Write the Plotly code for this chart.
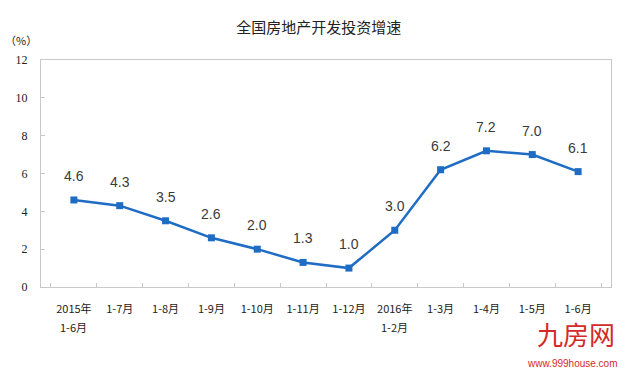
import plotly.graph_objects as go

categories = ["2015年 1-6月", "1-7月", "1-8月", "1-9月", "1-10月", "1-11月", "1-12月",
              "2016年 1-2月", "1-3月", "1-4月", "1-5月", "1-6月"]
tick_top = ["2015年", "1-7月", "1-8月", "1-9月", "1-10月", "1-11月", "1-12月",
            "2016年", "1-3月", "1-4月", "1-5月", "1-6月"]
tick_bottom = ["1-6月", "", "", "", "", "", "", "1-2月", "", "", "", ""]
values = [4.6, 4.3, 3.5, 2.6, 2.0, 1.3, 1.0, 3.0, 6.2, 7.2, 7.0, 6.1]
labels = [f"{v:.1f}" for v in values]

blue = "#1f6cc4"
fig = go.Figure()
fig.add_trace(go.Scatter(
    x=categories, y=values, mode="lines+markers",
    line=dict(color=blue, width=2.5),
    marker=dict(symbol="square", size=7, color=blue),
    cliponaxis=False, hoverinfo="skip",
))
for c, v, t in zip(categories, values, labels):
    fig.add_annotation(x=c, y=v, text=t, showarrow=False, yshift=24, yanchor="middle",
                       font=dict(size=14, color="#3a3a3a", family="Liberation Sans, Arial"))
for c, t in zip(categories, tick_bottom):
    if t:
        fig.add_annotation(x=c, y=0, yref="y", text=t, showarrow=False, yshift=-40,
                           yanchor="middle",
                           font=dict(size=11, color="#222222", family="Noto Sans CJK SC"))

fig.update_layout(
    width=625, height=370,
    margin=dict(l=41, r=14, t=60, b=83),
    paper_bgcolor="white", plot_bgcolor="white",
    showlegend=False,
    title=dict(text="全国房地产开发投资增速", x=0.51, xanchor="center", y=0.925, yanchor="middle",
               font=dict(size=15, color="#222222", family="Noto Sans CJK SC")),
    font=dict(family="Noto Sans CJK SC", color="#222222"),
)
fig.update_xaxes(
    type="category", showline=True, mirror=True, linecolor="#c8c8c8", linewidth=1,
    ticks="inside", tickson="boundaries", ticklen=4, tickcolor="#c8c8c8",
    showgrid=False, tickfont=dict(size=11, color="#222222", family="Noto Sans CJK SC"),
    tickangle=0, tickvals=categories, ticktext=tick_top, ticklabelstandoff=12,
)
fig.update_yaxes(
    range=[0, 12], dtick=2, showline=True, mirror=True, linecolor="#c8c8c8", linewidth=1,
    ticks="inside", ticklen=4, tickcolor="#c8c8c8", showgrid=False, zeroline=False,
    tickfont=dict(size=12, color="#222222", family="Liberation Serif, Times New Roman"),
    ticklabelstandoff=10,
)
fig.add_annotation(text="（%）", x=0, xref="paper", xanchor="left", xshift=-38, y=1, yref="paper",
                   yshift=20, yanchor="middle", showarrow=False,
                   font=dict(size=11, color="#222222", family="Noto Sans CJK SC"))
fig.add_annotation(text="九房网", x=1, xref="paper", xanchor="right", xshift=6, y=0, yref="paper",
                   yshift=-46, yanchor="middle", showarrow=False,
                   font=dict(size=26, color="#d42a2a", family="Noto Sans CJK SC"))
fig.add_annotation(text="www.999house.com", x=1, xref="paper", xanchor="right", xshift=9, y=0,
                   yref="paper", yshift=-76, yanchor="middle", showarrow=False,
                   font=dict(size=10, color="#d42a2a", family="Liberation Sans, Arial"))

fig.write_html("out.html")
